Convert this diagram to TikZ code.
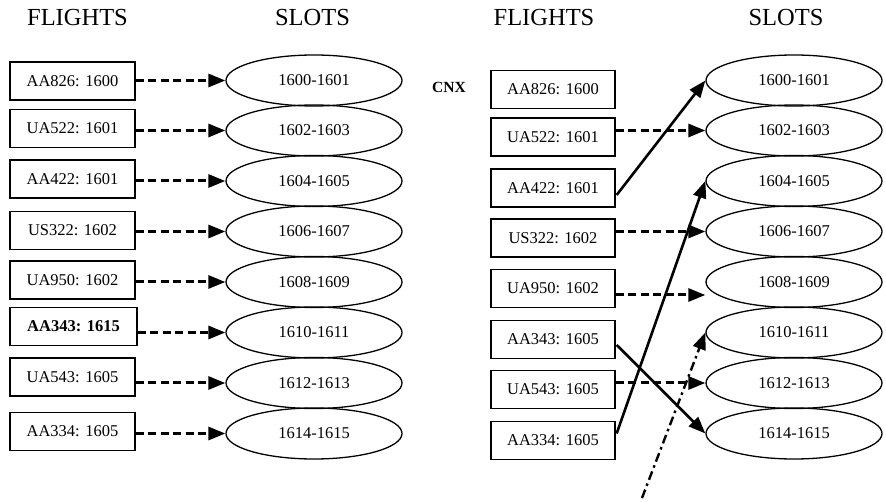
\documentclass[tikz,border=0pt]{standalone}
\usepackage{fontspec}
\setmainfont{Liberation Serif}
\usetikzlibrary{shapes.geometric,arrows.meta}
\begin{document}
\begin{tikzpicture}[x=1pt,y=-1pt,
 flight/.style={draw,line width=1.3pt,minimum width=125pt,minimum height=38pt,inner sep=0pt,font=\fontsize{16.5}{18}\selectfont},
 slot/.style={draw,ellipse,line width=1.3pt,minimum width=176pt,minimum height=51pt,inner sep=0pt,font=\fontsize{16.5}{18}\selectfont},
 title/.style={font=\fontsize{24.5}{28}\selectfont},
 tip/.style={-{Triangle[length=17pt,width=13pt]}},
 dasharrow/.style={tip,line width=3pt,dash pattern=on 8pt off 4.5pt},
 solidarrow/.style={tip,line width=2.6pt},
 dotarrow/.style={tip,line width=2.4pt,dash pattern=on 9pt off 4pt on 2.5pt off 4pt}
]
\useasboundingbox (0,0) rectangle (886,502);
% titles
\node[title] (t1) at (77.5,18) {FLIGHTS};
\node[title] (t2) at (312.5,18) {SLOTS};
\node[title] (t3) at (544,18) {FLIGHTS};
\node[title] (t4) at (786,18) {SLOTS};
% left flights
\node[flight] (a1) at (72.5,81) {AA826: 1600};
\node[flight] (a2) at (72.5,128.5) {UA522: 1601};
\node[flight] (a3) at (72.5,179) {AA422: 1601};
\node[flight] (a4) at (72.5,230.5) {US322: 1602};
\node[flight] (a5) at (72.5,280) {UA950: 1602};
\node[flight,minimum width=127pt,font=\fontsize{16.5}{18}\selectfont\bfseries] (a6) at (73.5,326.5) {AA343: 1615};
\node[flight] (a7) at (72.5,377) {UA543: 1605};
\node[flight] (a8) at (72.5,431.5) {AA334: 1605};
% left slots
\node[slot] (s1) at (314,80.5) {1600-1601};
\node[slot] (s2) at (314,130.5) {1602-1603};
\node[slot] (s3) at (314,181) {1604-1605};
\node[slot] (s4) at (314,231.5) {1606-1607};
\node[slot] (s5) at (314,282) {1608-1609};
\node[slot] (s6) at (314,332.5) {1610-1611};
\node[slot] (s7) at (314,383) {1612-1613};
\node[slot] (s8) at (314,433.5) {1614-1615};
\foreach \i in {1,...,8}{
  \draw[dasharrow] (a\i.east |- s\i.west) -- (s\i.west);
}
% right
\node[font=\fontsize{15.5}{18}\selectfont\bfseries] (cnx) at (449,87) {CNX};
\node[flight,minimum width=124pt] (b1) at (553,89.5) {AA826: 1600};
\node[flight,minimum width=124pt] (b2) at (553,137) {UA522: 1601};
\node[flight,minimum width=124pt] (b3) at (553,188) {AA422: 1601};
\node[flight,minimum width=124pt] (b4) at (553,238) {US322: 1602};
\node[flight,minimum width=124pt] (b5) at (553,288.5) {UA950: 1602};
\node[flight,minimum width=124pt] (b6) at (553,339.5) {AA343: 1605};
\node[flight,minimum width=124pt] (b7) at (553,389.5) {UA543: 1605};
\node[flight,minimum width=124pt] (b8) at (553,440.5) {AA334: 1605};
\node[slot] (r1) at (794,80.5) {1600-1601};
\node[slot] (r2) at (794,130.5) {1602-1603};
\node[slot] (r3) at (794,181) {1604-1605};
\node[slot] (r4) at (794,231.5) {1606-1607};
\node[slot] (r5) at (794,282) {1608-1609};
\node[slot] (r6) at (794,332.5) {1610-1611};
\node[slot] (r7) at (794,383) {1612-1613};
\node[slot] (r8) at (794,433.5) {1614-1615};
\coordinate (src) at (642,498);
\draw[dasharrow] (b2.east |- r2.west) -- (r2.west);
\draw[dasharrow] (b4.east |- r4.west) -- (r4.west);
\draw[dasharrow] ([yshift=-6.5pt]b5.east) coordinate (u5) -- (u5 -| r5.west);
\draw[dasharrow] (b7.east |- r7.west) -- (r7.west);
\draw[solidarrow] ([yshift=-7pt,xshift=1pt]b3.east) -- (r1.west);
\draw[solidarrow] ([yshift=7pt,xshift=1pt]b8.east) -- (r3.west);
\draw[solidarrow] ([yshift=-5.5pt,xshift=1pt]b6.east) -- (r8.west);
\draw[dotarrow] (src) -- (r6.west);
\end{tikzpicture}
\end{document}
